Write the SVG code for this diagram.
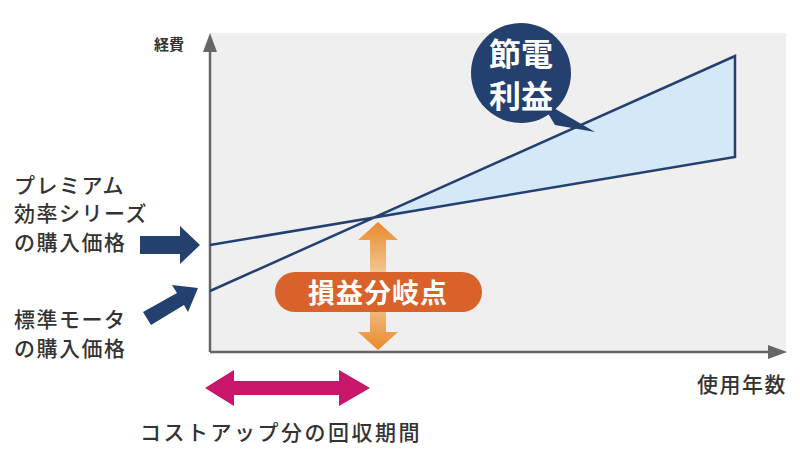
<svg xmlns="http://www.w3.org/2000/svg" width="800" height="467" viewBox="0 0 800 467">
<defs>
<style>
text{font-family:"Noto Sans CJK JP","Noto Sans",sans-serif}
.lbl{font-size:21px;fill:#333;letter-spacing:1.5px;font-weight:500}
.wt{fill:#fff;font-weight:bold}
.ln{stroke:#24406f;stroke-width:2.5;fill:none}
</style>
<linearGradient id="og" x1="0" y1="0" x2="0" y2="1">
<stop offset="0" stop-color="#e8892a"/><stop offset="0.5" stop-color="#f6d7b0"/><stop offset="1" stop-color="#e8892a"/>
</linearGradient>
</defs>
<rect width="800" height="467" fill="#fff"/>
<rect x="210" y="33" width="576" height="319" fill="#efefef"/>
<g id="axes" stroke="#666" stroke-width="2.5" fill="#666">
<line x1="210" y1="352" x2="210" y2="48"/>
<polygon points="203,52 210,33 217,52" stroke="none"/>
<line x1="210" y1="352" x2="772" y2="352"/>
<polygon points="768,345 787,352 768,359" stroke="none"/>
</g>
<text x="154" y="50" style="font-size:15px;font-weight:bold;fill:#333">経費</text>
<text x="787" y="392" text-anchor="end" class="lbl">使用年数</text>
<g id="connectors">
<polygon points="372,218 735,56 735,157" fill="#d4e8f8"/>
<polyline class="ln" points="210,245 735,157 735,56 210,291"/>
<polygon points="140,236 180,236 180,226 200,245 180,264 180,254 140,254" fill="#24406f"/>
<polygon points="143,312 177,293 172,285 198,288 188,312 184,305 151,325" fill="#24406f"/>
<polygon points="378,222 398,240 386,240 386,332 398,332 378,350 358,332 370,332 370,240 358,240" fill="url(#og)"/>
<polygon points="205,388 234,370 234,381 339,381 339,370 370,388 339,406 339,395 234,395 234,406" fill="#c8176b"/>
</g>
<g id="bubble">
<polygon points="540,100 595,132 555,125" fill="#24406f"/>
<circle cx="521" cy="73" r="50" fill="#24406f"/>
<text x="521" y="66" text-anchor="middle" class="wt" style="font-size:32px">節電</text>
<text x="521" y="108" text-anchor="middle" class="wt" style="font-size:32px">利益</text>
</g>
<g id="breakeven">
<rect x="275" y="272" width="207" height="40" rx="20" fill="#d9622a"/>
<text x="378" y="303" text-anchor="middle" class="wt" style="font-size:27px;letter-spacing:1px">損益分岐点</text>
</g>
<g id="premium">
<text x="14" y="193" class="lbl">プレミアム</text>
<text x="14" y="221" class="lbl">効率シリーズ</text>
<text x="14" y="250" class="lbl">の購入価格</text>
</g>
<g id="standard">
<text x="14" y="327" class="lbl">標準モータ</text>
<text x="14" y="356" class="lbl">の購入価格</text>
</g>
<text x="140" y="440" class="lbl" style="letter-spacing:2.5px">コストアップ分の回収期間</text>
</svg>
